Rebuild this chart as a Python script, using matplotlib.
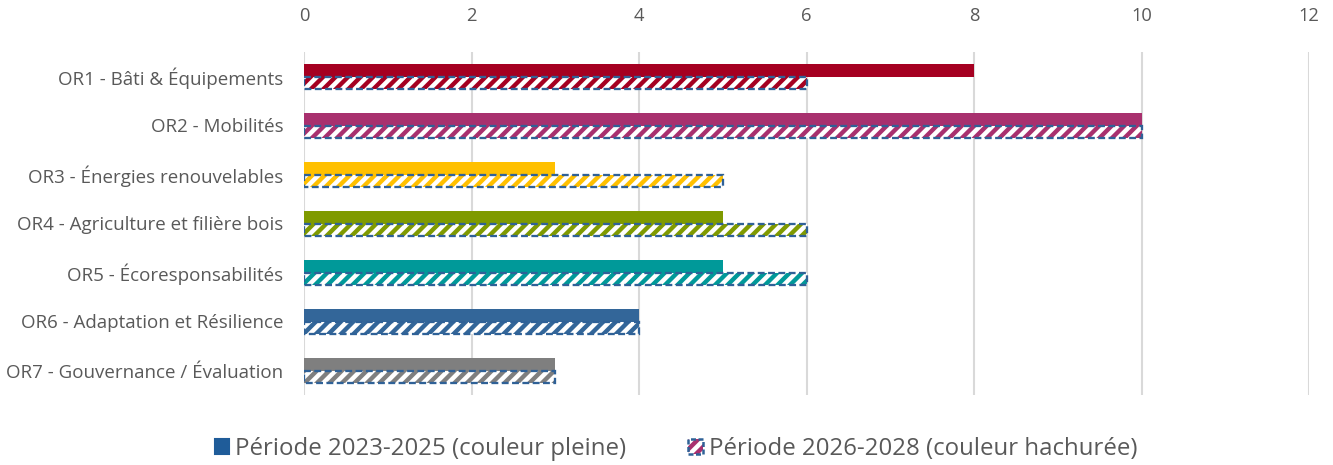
import matplotlib
matplotlib.use("Agg")
from matplotlib import pyplot
from matplotlib.patches import Patch
from numpy import arange

categories = [
    "OR1 - Bâti & Équipements",
    "OR2 - Mobilités",
    "OR3 - Énergies renouvelables",
    "OR4 - Agriculture et filière bois",
    "OR5 - Écoresponsabilités",
    "OR6 - Adaptation et Résilience",
    "OR7 - Gouvernance / Évaluation",
]
periode_2023_2025 = [8, 10, 3, 5, 5, 4, 3]
periode_2026_2028 = [6, 10, 5, 6, 6, 4, 3]
colors = ["#A50021", "#A8306E", "#FFC000", "#7F9A00",
          "#009999", "#336699", "#7F7F7F"]
x_ticks = [0, 2, 4, 6, 8, 10, 12]

pyplot.rcParams["font.family"] = ["Open Sans", "DejaVu Sans"]
pyplot.rcParams["hatch.linewidth"] = 2.1

text_color = "#595959"
edge_blue = "#2F6197"

fig = pyplot.figure(figsize=(1333 / 150, 465 / 150), dpi=150)
ax = fig.add_axes([304 / 1333, 1 - 395 / 465, 1005 / 1333, 343 / 465])

y = arange(len(categories))
h = 0.25
ax.barh(y - h / 2, periode_2023_2025, height=h, color=colors, zorder=3)
ax.barh(y + h / 2, periode_2026_2028, height=h, color="white",
        edgecolor=colors, hatch="////", linewidth=0, zorder=3)
ax.barh(y + h / 2, periode_2026_2028, height=h, fill=False,
        edgecolor=edge_blue, linewidth=1.1, linestyle=(0, (3, 1.5)), zorder=4)

ax.set_xlim(0, 12)
ax.set_ylim(len(categories) - 0.5, -0.5)
ax.set_xticks(x_ticks)
ax.xaxis.tick_top()
ax.set_yticks(y)
ax.set_yticklabels(categories)
ax.tick_params(axis="x", length=0, labelsize=8.8, labelcolor=text_color, pad=13)
ax.tick_params(axis="y", length=0, labelsize=9.0, labelcolor=text_color, pad=10)
ax.grid(axis="x", color="#D9D9D9", linewidth=1.0, zorder=0)
for spine in ax.spines.values():
    spine.set_visible(False)

handles = [
    Patch(facecolor="#1F5C99", edgecolor="#1F5C99"),
    (
        Patch(facecolor="white", edgecolor="#A8306E", hatch="////", linewidth=0),
        Patch(fill=False, edgecolor=edge_blue, linestyle=(0, (2, 1)), linewidth=1.2),
    ),
]
leg = fig.legend(
    handles,
    ["Période 2023-2025 (couleur pleine)", "Période 2026-2028 (couleur hachurée)"],
    loc="center",
    bbox_to_anchor=(0.507, 1 - 449 / 465),
    ncol=2,
    frameon=False,
    fontsize=11.5,
    handlelength=0.6,
    handleheight=0.6,
    handletextpad=0.25,
    columnspacing=2.6,
)
for t in leg.get_texts():
    t.set_color(text_color)

fig.savefig("out.png", dpi=150)
